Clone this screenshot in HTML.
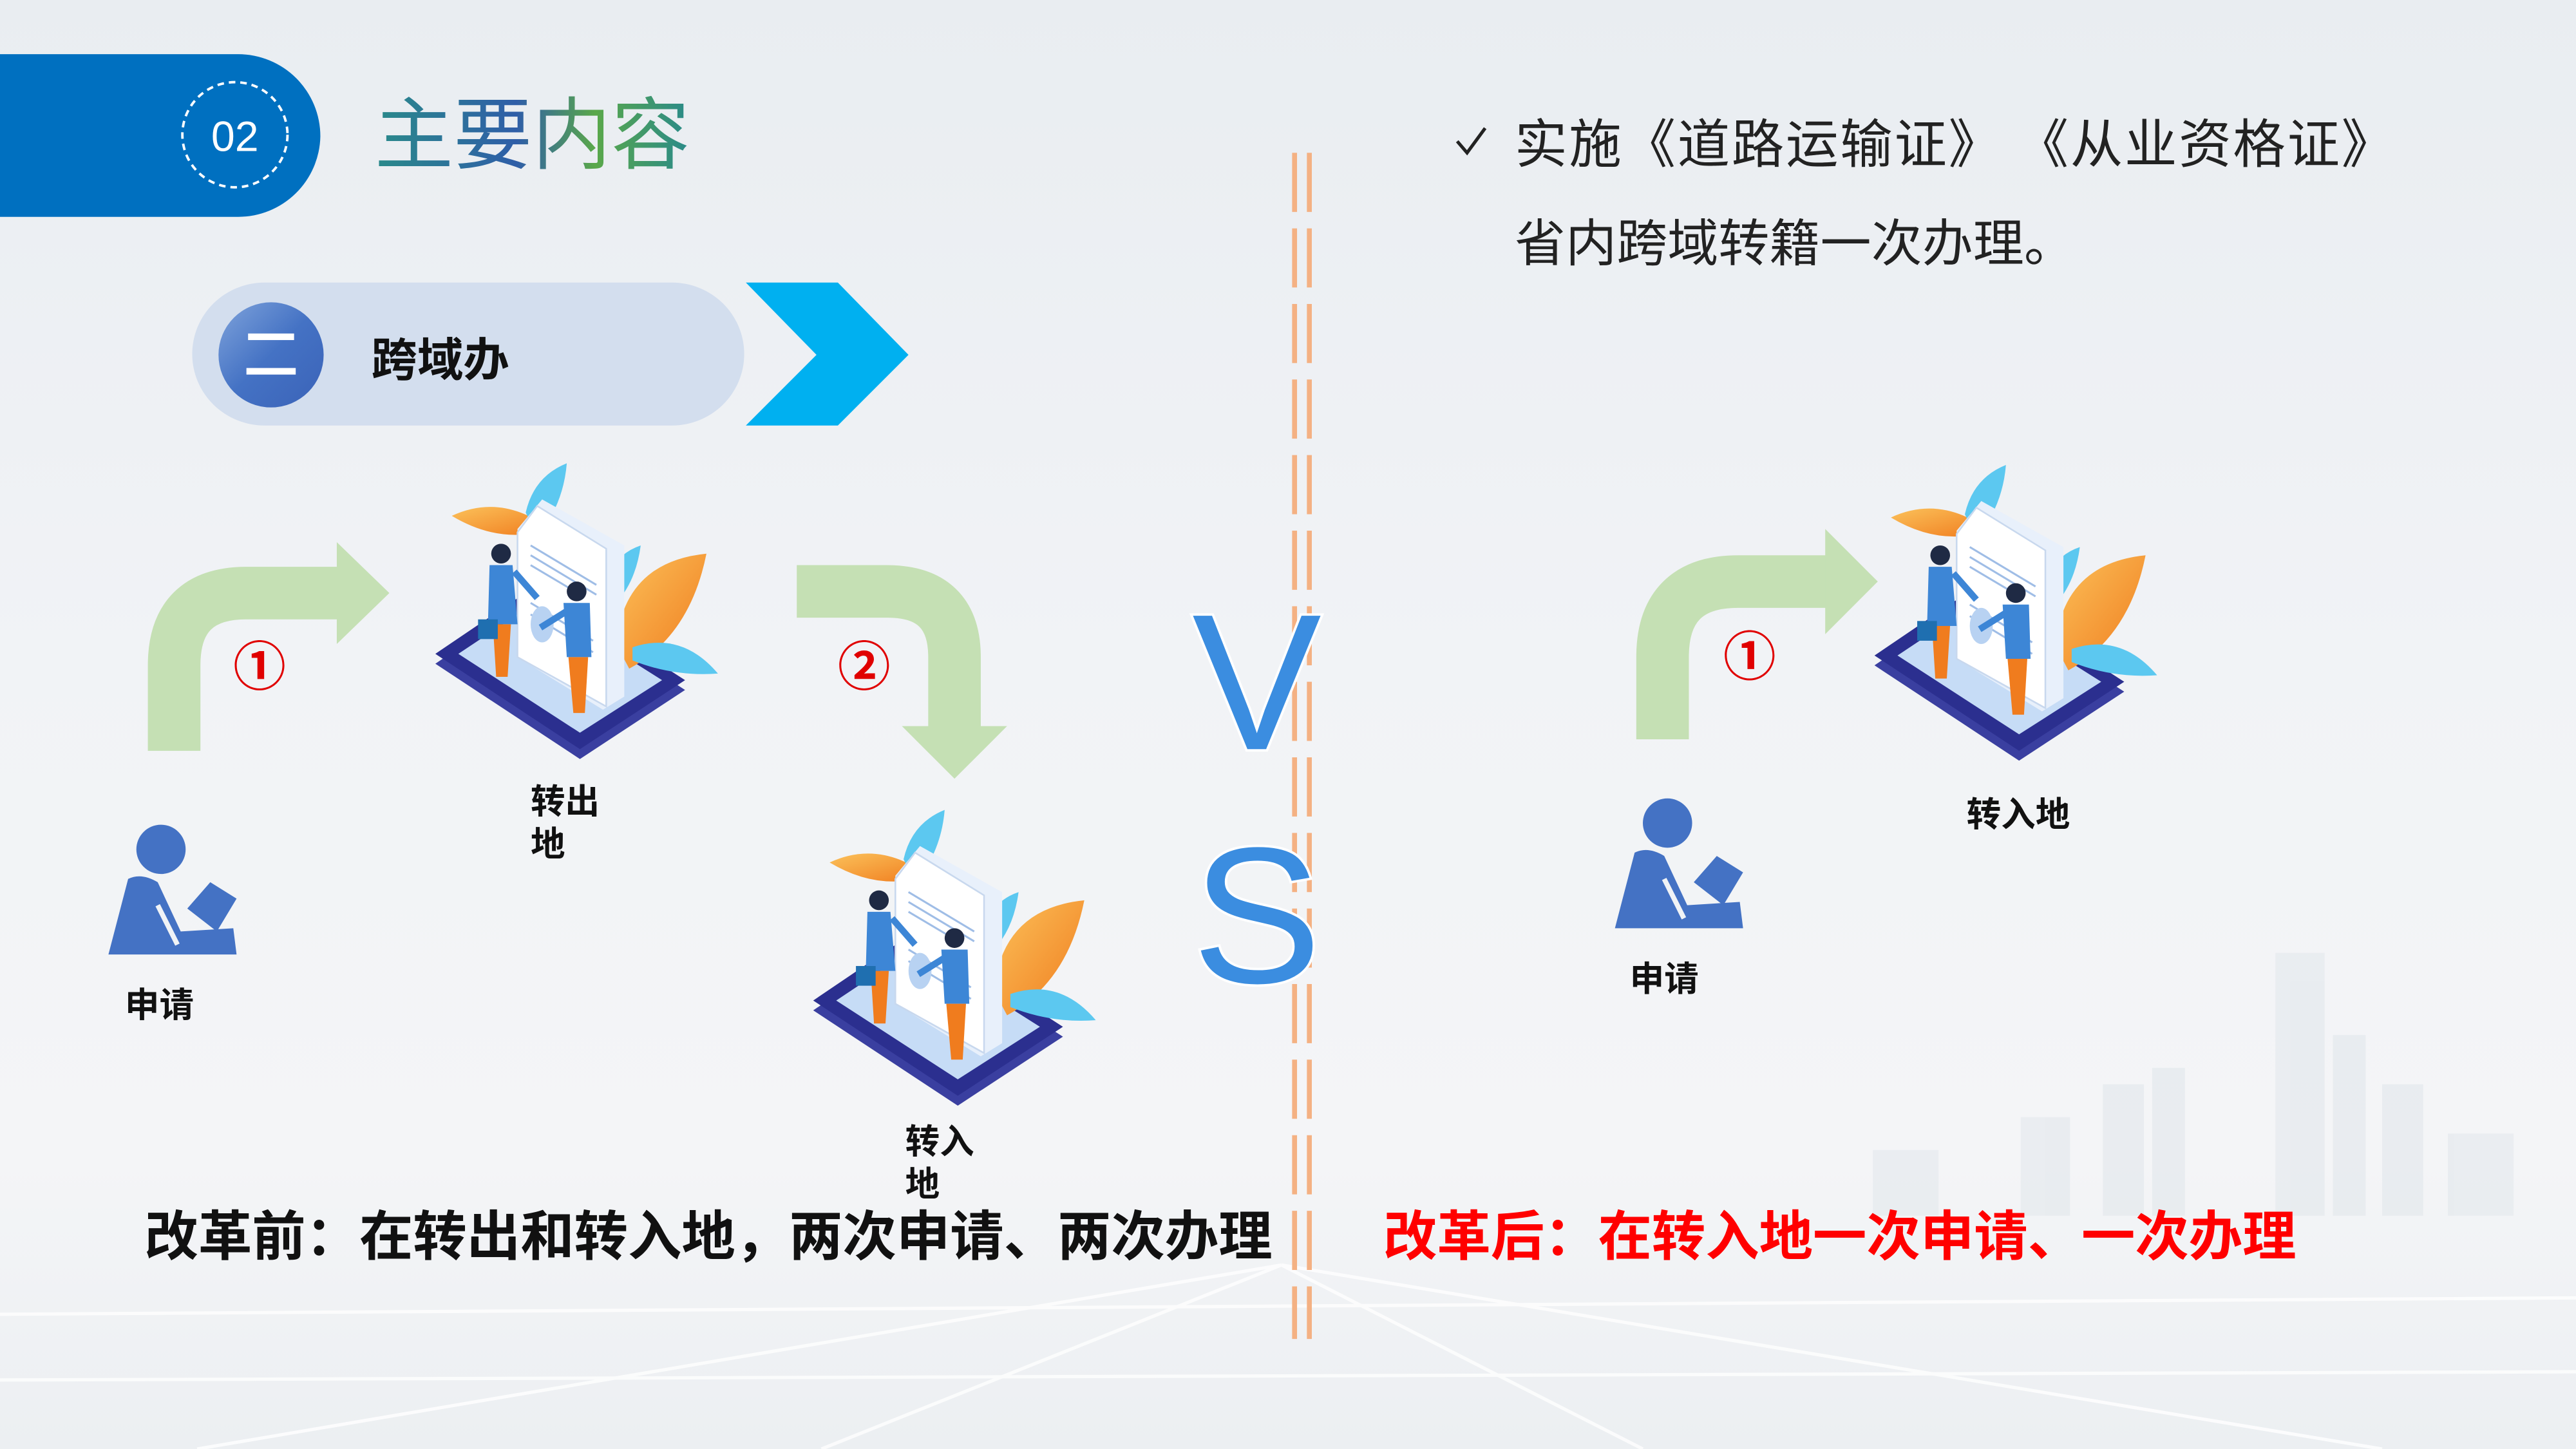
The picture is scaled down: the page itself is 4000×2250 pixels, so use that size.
<!DOCTYPE html>
<html><head><meta charset="utf-8">
<style>
html,body{margin:0;padding:0;width:4000px;height:2250px;overflow:hidden;background:#eef1f4;}
#s{position:absolute;left:0;top:0;width:1568px;height:882px;transform:scale(2.55102);transform-origin:0 0;
background:linear-gradient(180deg,#e9edf1 0%,#f1f3f6 45%,#f4f5f7 80%,#eceff2 100%);
font-family:"Liberation Sans","Noto Sans CJK SC",sans-serif;overflow:hidden;}
.t{position:absolute;white-space:nowrap;}
.b{font-weight:bold;color:#111;}
.c{font-family:"Noto Sans CJK SC",sans-serif;}
</style></head><body>
<div id="s">
<svg width="1568" height="882" style="position:absolute;left:0;top:0">
<defs>
<linearGradient id="tg" x1="0" x2="1"><stop offset="0" stop-color="#2a8a8a"/><stop offset="0.45" stop-color="#2f5ea8"/><stop offset="0.7" stop-color="#5aa84a"/><stop offset="1" stop-color="#2a8a8a"/></linearGradient>
<linearGradient id="cg" x1="0" y1="0" x2="1" y2="1"><stop offset="0" stop-color="#7fa3db"/><stop offset="0.5" stop-color="#4472c4"/><stop offset="1" stop-color="#3b63b8"/></linearGradient>
<linearGradient id="ol" x1="0" y1="0" x2="1" y2="1"><stop offset="0" stop-color="#fbc15a"/><stop offset="1" stop-color="#f07c1e"/></linearGradient>
<g id="ill">
 <polygon points="0,122 62,80 152,138 88,180" fill="#3a3fa0"/>
 <polygon points="0,116 62,74 152,132 88,174" fill="#2b2f8f"/>
 <polygon points="14,116 62,84 138,132 88,164" fill="#c6dcf6"/>
 <path d="M10,32 Q40,18 70,40 Q40,50 10,32Z" fill="url(#ol)"/>
 <path d="M55,30 Q60,8 80,0 Q78,25 62,45Z" fill="#5cc8f0"/>
 <path d="M110,110 Q115,60 165,55 Q155,105 118,125Z" fill="url(#ol)"/>
 <path d="M105,70 Q110,55 125,50 Q122,72 110,85Z" fill="#5cc8f0"/>
 <path d="M120,112 Q150,102 172,128 Q145,130 120,120Z" fill="#5cc8f0"/>
 <polygon points="50,40 65,22 115,50 115,142 102,150 50,118" fill="#e8f0fb"/>
 <polygon points="50,42 62,26 104,52 104,148 50,118" fill="#ffffff" stroke="#c8d8ee" stroke-width="1"/>
 <g stroke="#9fbde6" stroke-width="1.2"><line x1="58" y1="50" x2="98" y2="74"/><line x1="58" y1="56" x2="98" y2="80"/><line x1="58" y1="62" x2="90" y2="81"/><line x1="58" y1="85" x2="96" y2="108"/><line x1="58" y1="92" x2="96" y2="115"/></g>
 <ellipse cx="65" cy="98" rx="7" ry="11" fill="#b8d2f2"/>
 <circle cx="40" cy="55" r="6" fill="#1f2a44"/>
 <path d="M33,62 L47,62 L50,98 L32,98Z" fill="#3d86d6"/>
 <path d="M35,98 L46,98 L44,130 L37,130Z" fill="#f07c1e"/>
 <rect x="26" y="95" width="12" height="12" fill="#1f6fb0"/>
 <line x1="48" y1="66" x2="62" y2="82" stroke="#3d86d6" stroke-width="4"/>
 <circle cx="86" cy="78" r="6" fill="#1f2a44"/>
 <path d="M78,85 L94,85 L95,118 L80,118Z" fill="#3d86d6"/>
 <path d="M81,118 L93,118 L91,152 L84,152Z" fill="#f07c1e"/>
 <line x1="80" y1="90" x2="64" y2="100" stroke="#3d86d6" stroke-width="4"/>
</g>
<g id="per">
 <circle cx="32" cy="16" r="15" fill="#4472c4"/>
 <path d="M12,34 Q20,30 30,36 L44,66 L76,64 L78,80 L0,80 Z" fill="#4472c4"/>
 <path d="M48,52 L62,36 L78,46 L66,66 Z" fill="#4472c4"/>
 <path d="M30,50 L42,74" stroke="#f0f3f6" stroke-width="3"/>
</g>
</defs>
<g stroke="#ffffff" stroke-width="2" opacity="0.8" fill="none">
<line x1="0" y1="800" x2="1568" y2="790"/><line x1="0" y1="840" x2="1568" y2="835"/>
<line x1="780" y1="770" x2="500" y2="882"/><line x1="780" y1="770" x2="1000" y2="882"/><line x1="780" y1="770" x2="120" y2="882"/><line x1="780" y1="770" x2="1450" y2="882"/>
</g>
<g fill="#e2e7ec" opacity="0.6">
<rect x="1385" y="580" width="30" height="160"/><rect x="1420" y="630" width="20" height="110"/><rect x="1280" y="660" width="25" height="80"/><rect x="1310" y="650" width="20" height="90"/><rect x="1230" y="680" width="30" height="60"/><rect x="1450" y="660" width="25" height="80"/><rect x="1490" y="690" width="40" height="50"/><rect x="1140" y="700" width="40" height="40"/>
</g>
<path d="M0,33 L145,33 A50,50 0 0 1 195,83 A50,50 0 0 1 145,132 L0,132Z" fill="#0070c0"/>
<circle cx="143" cy="82" r="32" fill="none" stroke="#fff" stroke-width="1.5" stroke-dasharray="4,3"/>
<text x="143" y="92" font-size="26" fill="#fff" text-anchor="middle" font-family="Liberation Sans">02</text>
<text x="228" y="99" font-size="48" fill="url(#tg)" font-family="Noto Sans CJK SC,sans-serif">主要内容</text>
<rect x="117" y="172" width="336" height="87" rx="44" fill="#d3deee"/>
<circle cx="165" cy="216" r="32" fill="url(#cg)"/>
<rect x="151" y="203" width="28" height="4" fill="#fff"/><rect x="150" y="224" width="30" height="4" fill="#fff"/>
<polygon points="454,172 510,172 553,216 510,259 454,259 497,216" fill="#00b0f0"/>
<g fill="none" stroke="#c5e0b4" stroke-width="32">
<path d="M106,457 L106,405 Q106,361 150,361 L210,361"/>
<path d="M485,360 L540,360 Q581,360 581,400 L581,445"/>
<path d="M1012,450 L1012,400 Q1012,354 1058,354 L1113,354"/>
</g>
<g fill="#c5e0b4">
<polygon points="205,330 237,361 205,392"/>
<polygon points="549,442 613,442 581,474"/>
<polygon points="1111,322 1143,354 1111,386"/>
</g>
<use href="#ill" transform="translate(265,282)"/>
<use href="#ill" transform="translate(495,493)"/>
<use href="#ill" transform="translate(1141,283)"/>
<use href="#per" transform="translate(66,501)"/>
<use href="#per" transform="translate(983,485)"/>
<g stroke="#f4b183" stroke-width="3" stroke-dasharray="36,10">
<line x1="788" y1="93" x2="788" y2="815"/><line x1="797" y1="93" x2="797" y2="815"/>
</g>
<text x="765" y="456" font-size="118" text-anchor="middle" fill="#3b8de0" stroke="#ffffff" stroke-width="3" paint-order="stroke" font-family="Liberation Sans">V</text>
<text x="765" y="598" font-size="118" text-anchor="middle" fill="#3b8de0" stroke="#ffffff" stroke-width="3" paint-order="stroke" font-family="Liberation Sans">S</text>
<g font-family="Noto Sans CJK SC,sans-serif" font-weight="bold" font-size="32" fill="#e00000" text-anchor="middle">
<text x="158" y="417">①</text><text x="526" y="417">②</text><text x="1065" y="411">①</text>
</g>
<path d="M887,86 L893,93 L904,78" fill="none" stroke="#222" stroke-width="2"/>
</svg>
<div class="t b" style="left:226px;top:198px;font-size:28px;">跨域办</div>
<div class="t b" style="left:323px;top:476px;font-size:21px;line-height:26px;">转出<br>地</div>
<div class="t b" style="left:551px;top:683px;font-size:21px;line-height:26px;">转入<br>地</div>
<div class="t b" style="left:76px;top:596px;font-size:21px;">申请</div>
<div class="t b" style="left:992px;top:580px;font-size:21px;">申请</div>
<div class="t b" style="left:1197px;top:480px;font-size:21px;">转入地</div>
<div class="t c" style="left:922px;top:64px;font-size:32px;color:#222;line-height:44px;letter-spacing:1px;">实施《道路运输证》&nbsp;《从业资格证》</div>
<div class="t c" style="left:922px;top:124px;font-size:31px;color:#222;line-height:44px;">省内跨域转籍一次办理。</div>
<div class="t b c" style="left:88px;top:728px;font-size:32.7px;line-height:46px;">改革前：在转出和转入地，两次申请、两次办理</div>
<div class="t c" style="left:842px;top:728px;font-size:32.7px;line-height:46px;font-weight:bold;color:#ff0000;">改革后：在转入地一次申请、一次办理</div>
</div>
</body></html>
